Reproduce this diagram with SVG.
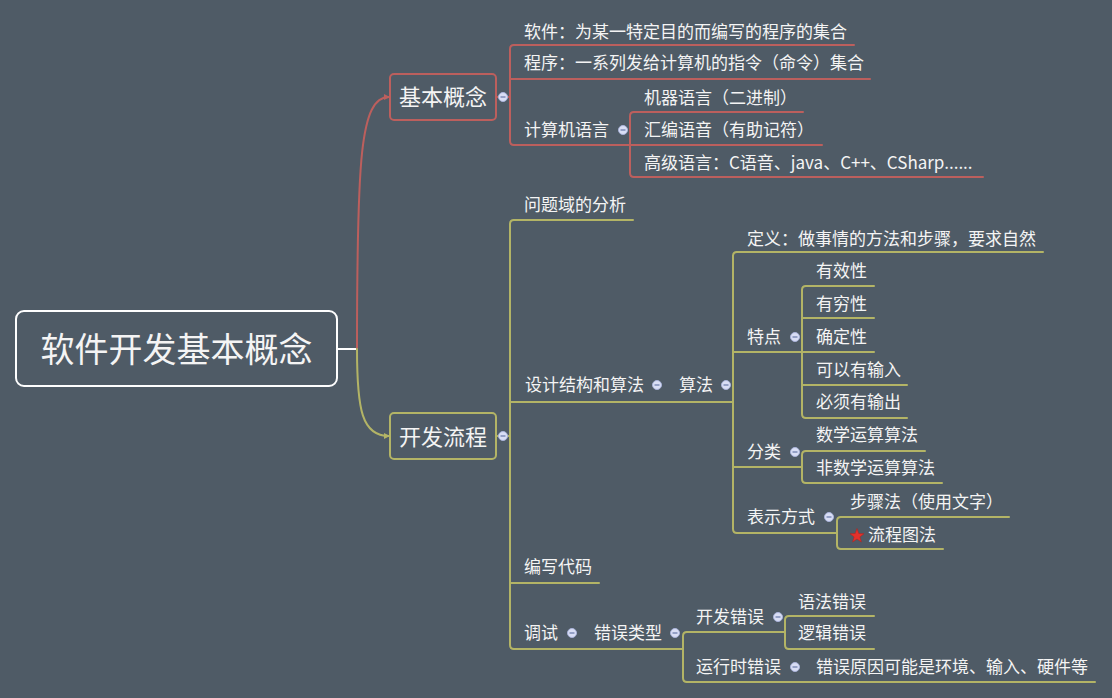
<svg xmlns="http://www.w3.org/2000/svg" width="1112" height="698" viewBox="0 0 1112 698">
<defs>
<style>
text{font-family:"Noto Sans CJK SC","Noto Sans",sans-serif;fill:#F4F4F4}
.t{font-size:17px}
.r{fill:none;stroke:#BC5F5D;stroke-width:2;stroke-linecap:round}
.o{fill:none;stroke:#B3B466;stroke-width:2;stroke-linecap:round}
.c{fill:#D9DEF5;stroke:#A9B3DA;stroke-width:1}
.m{stroke:#7D8BB6;stroke-width:1.5}
</style>
<marker id="ar" viewBox="0 0 6 6" refX="5" refY="3" markerWidth="6" markerHeight="6" markerUnits="userSpaceOnUse" orient="auto"><path d="M0,0 L6,3 L0,6 z" fill="#BC5F5D"/></marker>
<marker id="ao" viewBox="0 0 6 6" refX="5" refY="3" markerWidth="6" markerHeight="6" markerUnits="userSpaceOnUse" orient="auto"><path d="M0,0 L6,3 L0,6 z" fill="#B3B466"/></marker>
<g id="col"><circle class="c" r="4.5"/><line class="m" x1="-2.5" y1="0" x2="2.5" y2="0"/></g>
</defs>
<rect width="1112" height="698" fill="#4F5B66"/>

<g id="connectors">
<line x1="337" y1="349" x2="357" y2="349" stroke="#FFFFFF" stroke-width="2"/>
<path class="r" d="M357,349 C357,160 360,97 389,97" marker-end="url(#ar)"/>
<path class="o" d="M357,349 C357,410 362,436 389,436" marker-end="url(#ao)"/>
<!-- red branch -->
<line class="r" x1="496" y1="97" x2="510" y2="97"/>
<path class="r" d="M514,45 Q510,45 510,49 L510,141 Q510,145 514,145"/>
<line class="r" x1="514" y1="45" x2="854" y2="45"/>
<line class="r" x1="510" y1="79" x2="870" y2="79"/>
<line class="r" x1="514" y1="145" x2="822" y2="145"/>
<path class="r" d="M634,112 Q630,112 630,116 L630,173 Q630,177 634,177"/>
<line class="r" x1="634" y1="112" x2="803" y2="112"/>
<line class="r" x1="634" y1="177" x2="983" y2="177"/>
<!-- olive branch -->
<line class="o" x1="496" y1="436" x2="510" y2="436"/>
<path class="o" d="M514,220 Q510,220 510,224 L510,645 Q510,649 514,649"/>
<line class="o" x1="514" y1="220" x2="633" y2="220"/>
<line class="o" x1="510" y1="402" x2="733" y2="402"/>
<line class="o" x1="510" y1="583" x2="599" y2="583"/>
<line class="o" x1="514" y1="649" x2="683" y2="649"/>
<path class="o" d="M737,252 Q733,252 733,256 L733,529 Q733,533 737,533"/>
<line class="o" x1="737" y1="252" x2="1043" y2="252"/>
<line class="o" x1="733" y1="352" x2="874" y2="352"/>
<line class="o" x1="733" y1="467" x2="802" y2="467"/>
<line class="o" x1="737" y1="533" x2="837" y2="533"/>
<path class="o" d="M806,286 Q802,286 802,290 L802,414 Q802,418 806,418"/>
<line class="o" x1="806" y1="286" x2="874" y2="286"/>
<line class="o" x1="802" y1="318" x2="874" y2="318"/>
<line class="o" x1="802" y1="385" x2="907" y2="385"/>
<line class="o" x1="806" y1="418" x2="907" y2="418"/>
<path class="o" d="M806,451 Q802,451 802,455 L802,479 Q802,483 806,483"/>
<line class="o" x1="806" y1="451" x2="925" y2="451"/>
<line class="o" x1="806" y1="483" x2="942" y2="483"/>
<path class="o" d="M841,517 Q837,517 837,521 L837,545 Q837,549 841,549"/>
<line class="o" x1="841" y1="517" x2="1009" y2="517"/>
<line class="o" x1="841" y1="549" x2="943" y2="549"/>
<path class="o" d="M687,632 Q683,632 683,636 L683,678 Q683,682 687,682"/>
<line class="o" x1="687" y1="632" x2="785" y2="632"/>
<line class="o" x1="687" y1="682" x2="1095" y2="682"/>
<path class="o" d="M789,616 Q785,616 785,620 L785,645 Q785,649 789,649"/>
<line class="o" x1="789" y1="616" x2="874" y2="616"/>
<line class="o" x1="789" y1="649" x2="874" y2="649"/>
</g>

<g id="root">
<rect x="16" y="311" width="321" height="75" rx="8" fill="#4F5B66" stroke="#FFFFFF" stroke-width="2"/>
<text x="176.5" y="362" font-size="34" text-anchor="middle">软件开发基本概念</text>
</g>

<g id="n-jbgn">
<rect x="390" y="74" width="106" height="46" rx="4" fill="#4F5B66" stroke="#BC5F5D" stroke-width="2"/>
<text x="443" y="105" font-size="22" text-anchor="middle">基本概念</text>
<use href="#col" x="503" y="97"/>
</g>
<g id="n-rj"><text class="t" x="524" y="38">软件：为某一特定目的而编写的程序的集合</text></g>
<g id="n-cx"><text class="t" x="524" y="69">程序：一系列发给计算机的指令（命令）集合</text></g>
<g id="n-jsjyy"><text class="t" x="524" y="136">计算机语言</text><use href="#col" x="623" y="130"/></g>
<g id="n-jqyy"><text class="t" x="644" y="104">机器语言（二进制）</text></g>
<g id="n-hbyy"><text class="t" x="644" y="136">汇编语音（有助记符）</text></g>
<g id="n-gjyy"><text class="t" x="644" y="169">高级语言：C语音、java、C++、CSharp......</text></g>

<g id="n-kflc">
<rect x="390" y="413" width="106" height="46" rx="4" fill="#4F5B66" stroke="#B3B466" stroke-width="2"/>
<text x="443" y="445" font-size="22" text-anchor="middle">开发流程</text>
<use href="#col" x="503" y="436"/>
</g>
<g id="n-wty"><text class="t" x="524" y="211">问题域的分析</text></g>
<g id="n-sjjg"><text class="t" x="525" y="391">设计结构和算法</text><use href="#col" x="657" y="385"/></g>
<g id="n-sf"><text class="t" x="679" y="391">算法</text><use href="#col" x="726" y="385"/></g>
<g id="n-dy"><text class="t" x="747" y="245">定义：做事情的方法和步骤，要求自然</text></g>
<g id="n-td"><text class="t" x="747" y="343">特点</text><use href="#col" x="795" y="337"/></g>
<g id="n-yxx"><text class="t" x="816" y="277">有效性</text></g>
<g id="n-yqx"><text class="t" x="816" y="310">有穷性</text></g>
<g id="n-qdx"><text class="t" x="816" y="343">确定性</text></g>
<g id="n-kysr"><text class="t" x="816" y="376">可以有输入</text></g>
<g id="n-bxsc"><text class="t" x="816" y="408">必须有输出</text></g>
<g id="n-fl"><text class="t" x="747" y="458">分类</text><use href="#col" x="795" y="452"/></g>
<g id="n-sxys"><text class="t" x="816" y="441">数学运算算法</text></g>
<g id="n-fsxys"><text class="t" x="816" y="474">非数学运算算法</text></g>
<g id="n-bsfs"><text class="t" x="747" y="523">表示方式</text><use href="#col" x="829" y="517"/></g>
<g id="n-bzf"><text class="t" x="850" y="508">步骤法（使用文字）</text></g>
<g id="n-lctf">
<polygon points="857,528.5 858.8,533.5 864,533.7 859.9,536.9 861.4,542 857,539 852.6,542 854.1,536.9 850,533.7 855.2,533.5" fill="#E3312B" stroke="#B81E1A" stroke-width="0.5"/>
<text class="t" x="868" y="541">流程图法</text>
</g>
<g id="n-bxdm"><text class="t" x="524" y="573">编写代码</text></g>
<g id="n-ts"><text class="t" x="524" y="639">调试</text><use href="#col" x="572" y="633"/></g>
<g id="n-cwlx"><text class="t" x="594" y="639">错误类型</text><use href="#col" x="675" y="633"/></g>
<g id="n-kfcw"><text class="t" x="696" y="623">开发错误</text><use href="#col" x="778" y="617"/></g>
<g id="n-yfcw"><text class="t" x="798" y="608">语法错误</text></g>
<g id="n-ljcw"><text class="t" x="798" y="639">逻辑错误</text></g>
<g id="n-yxscw"><text class="t" x="696" y="673">运行时错误</text><use href="#col" x="795" y="667"/></g>
<g id="n-cwyy"><text class="t" x="816" y="673">错误原因可能是环境、输入、硬件等</text></g>
</svg>
